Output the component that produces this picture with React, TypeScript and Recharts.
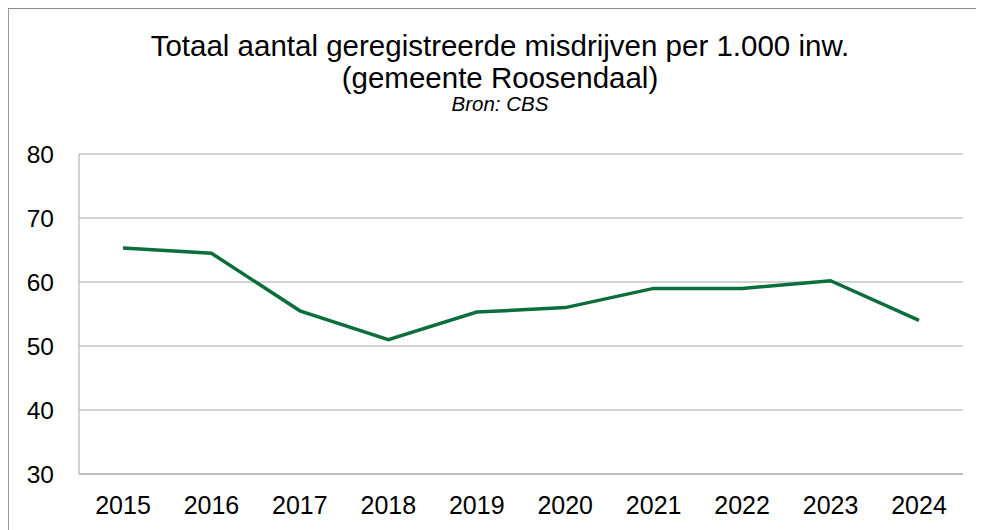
import React from 'react';
import { LineChart, Line, XAxis, YAxis, CartesianGrid } from 'recharts';

const years = ['2015', '2016', '2017', '2018', '2019', '2020', '2021', '2022', '2023', '2024'];
const misdrijven = [65.3, 64.5, 55.5, 51.0, 55.3, 56.0, 59.0, 59.0, 60.2, 54.0];
const yTicks = [30, 40, 50, 60, 70, 80];

const FONT = '"Liberation Sans", Arial, sans-serif';
const GRID = '#a6a6a6';
const GREEN = '#0b6e3c';

const data = years.map((y, i) => ({ jaar: y, waarde: misdrijven[i] }));

export default function App() {
  return (
    <div
      style={{
        position: 'relative',
        width: 975,
        height: 521,
        overflow: 'hidden',
        borderLeft: '1px solid #9a9a9a',
        borderTop: '1px solid #8c8c8c',
        fontFamily: FONT,
        background: '#fff',
      }}
    >
      <style>{'html,body{overflow:hidden}'}</style>
      <div style={{ position: 'absolute', top: 21, left: 0, width: 982, textAlign: 'center', fontSize: 29.5, lineHeight: '32px', color: '#000' }}>
        Totaal aantal geregistreerde misdrijven per 1.000 inw.
        <br />
        (gemeente Roosendaal)
      </div>
      <div style={{ position: 'absolute', top: 85, left: 0, width: 982, textAlign: 'center', fontSize: 20.5, lineHeight: '20.5px', fontStyle: 'italic', color: '#000' }}>
        Bron: CBS
      </div>
      <LineChart width={982} height={530} data={data} margin={{ top: 145, right: 28, left: 0, bottom: 0 }}>
        <CartesianGrid vertical={false} stroke={GRID} strokeWidth={1} />
        <XAxis
          dataKey="jaar"
          height={65}
          tickSize={0}
          tickMargin={22}
          padding={{ left: 44, right: 44 }}
          axisLine={{ stroke: GRID }}
          tick={{ fontSize: 25, fill: '#000', fontFamily: FONT }}
        />
        <YAxis
          domain={[30, 80]}
          ticks={yTicks}
          width={70}
          tickSize={0}
          tickMargin={25}
          axisLine={{ stroke: GRID }}
          tick={{ fontSize: 24.5, fill: '#000', fontFamily: FONT }}
        />
        <Line
          type="linear"
          dataKey="waarde"
          stroke={GREEN}
          strokeWidth={3.5}
          dot={false}
          isAnimationActive={false}
        />
      </LineChart>
    </div>
  );
}
